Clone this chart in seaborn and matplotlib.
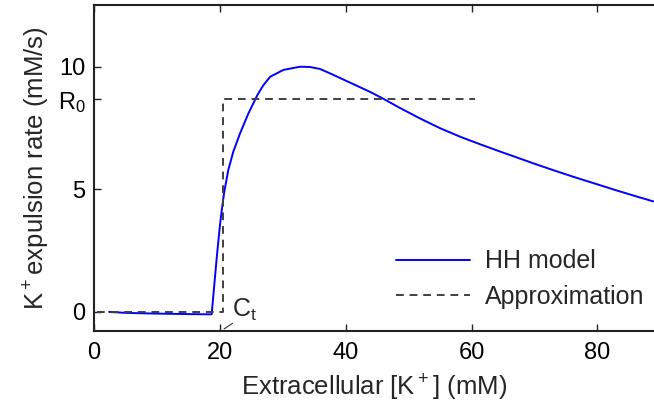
import numpy as np
import pandas as pd
import matplotlib
matplotlib.use("Agg")
import matplotlib.pyplot as plt
import seaborn as sns

# HH model curve
hh_x = [2.4, 5.0, 10.0, 15.0, 18.7, 19.5, 20.0, 20.3, 20.7, 21.35, 22.15, 23.2,
        24.5, 25.9, 26.9, 28.0, 30.1, 32.75, 34.3, 35.9, 37.5, 40.7, 43.9, 46.0,
        48.6, 51.8, 55.0, 58.2, 61.4, 64.5, 67.7, 70.1, 73.3, 76.5, 79.6, 82.8,
        86.0, 88.9]
hh_y = [0.0, -0.04, -0.07, -0.09, -0.1, 2.2, 3.5, 4.15, 4.9, 5.8, 6.55, 7.28,
        8.08, 8.82, 9.25, 9.6, 9.88, 10.01, 10.0, 9.92, 9.74, 9.36, 8.98, 8.7,
        8.33, 7.9, 7.5, 7.15, 6.84, 6.55, 6.26, 6.04, 5.76, 5.49, 5.24, 4.98,
        4.73, 4.51]

# Step approximation
ct = 20.5
r0 = 8.68
approx_x = [0.4, ct, ct, 60.5]
approx_y = [0.0, 0.0, r0, r0]

x_ticks = [0, 20, 40, 60, 80]
y_ticks = [0, 5, r0, 10]
y_tick_labels = ["0", "5", "R$_0$", "10"]

sns.set_style("ticks")
plt.rcParams["font.family"] = ["Liberation Sans", "DejaVu Sans"]
plt.rcParams["mathtext.default"] = "regular"
plt.rcParams["xtick.direction"] = "in"
plt.rcParams["ytick.direction"] = "in"

fig = plt.figure(figsize=(6.54, 4.08), dpi=100)
ax = fig.add_axes([94/654, 77/408, (654-94)/654, (331-5)/408])

hh = pd.DataFrame({"x": hh_x, "y": hh_y})
ap = pd.DataFrame({"x": approx_x, "y": approx_y})

sns.lineplot(data=hh, x="x", y="y", ax=ax, color="#0000ff", lw=1.4,
             sort=False, estimator=None, label="HH model")
sns.lineplot(data=ap, x="x", y="y", ax=ax, color="#404040", lw=1.4,
             linestyle=(0, (4, 3)), sort=False, estimator=None, label="Approximation")

ax.set_xlim(0, 89)
ax.set_ylim(-0.78, 12.53)
ax.set_xticks(x_ticks)
ax.set_yticks(y_ticks)
ax.set_yticklabels(y_tick_labels)
ax.tick_params(axis="both", labelsize=17, length=5, width=1, colors="#222222",
               top=True, labelcolor="black")
ax.tick_params(axis="x", pad=8)
ax.tick_params(axis="y", pad=6)

for s in ["left", "bottom", "top"]:
    ax.spines[s].set_linewidth(1.5)
    ax.spines[s].set_color("#222222")
ax.spines["right"].set_visible(False)

ax.set_xlabel("Extracellular [K$^+$] (mM)", fontsize=18.5, labelpad=6)
ax.set_ylabel("K$^+$expulsion rate (mM/s)", fontsize=18.5, labelpad=4)

# C_t marker
ax.annotate("", xy=(20.3, -0.76), xytext=(22.4, -0.4),
            arrowprops=dict(arrowstyle="-", color="#333333", lw=0.8))
ax.text(21.9, -0.2, "C$_t$", fontsize=18, ha="left", va="baseline")

leg = ax.legend(loc="upper left", bbox_to_anchor=(0.539, 0.25), frameon=False,
                fontsize=18, handlelength=2.95, handletextpad=0.6,
                labelspacing=0.45, borderpad=0, borderaxespad=0)

fig.savefig("out.png", dpi=100)
